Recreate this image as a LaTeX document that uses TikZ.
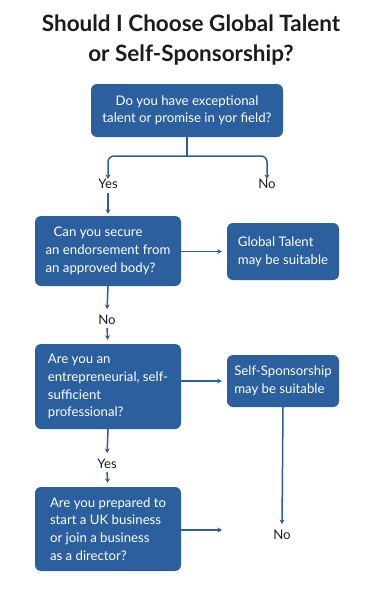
\documentclass[tikz,border=0pt]{standalone}
\usepackage{fontspec}
\setmainfont{Lato}
\usetikzlibrary{arrows.meta,calc}
\definecolor{boxblue}{RGB}{43,95,158}
\definecolor{ink}{RGB}{28,28,30}
\tikzset{
  qbox/.style={draw=none, fill=boxblue, rounded corners=6pt, text=white, inner sep=0pt, font=\fontsize{13.2}{17.8}\selectfont},
  lbl/.style={text=ink, inner sep=3pt, font=\fontsize{13.2}{15}\selectfont},
  conn/.style={draw=boxblue, line width=1.5pt},
  arr/.style={conn, -{Stealth[length=4.5pt,width=5pt]}},
}
\begin{document}
\begin{tikzpicture}[x=1pt,y=-1pt]
\useasboundingbox[fill=white] (0,0) rectangle (382,600);
\node[text=ink, align=center, font=\fontsize{22.5}{30}\selectfont\bfseries] (title) at (191,40) {Should I Choose Global Talent\\or Self-Sponsorship?};

\node[qbox, minimum width=192pt, minimum height=53pt, align=center, font=\fontsize{13.2}{17}\selectfont] (q1) at (187,110.5) {Do you have exceptional\\talent or promise in yor field?};
\node[qbox, minimum width=146pt, minimum height=70pt, align=left] (q2) at (108,251) {\hspace*{8pt}Can you secure\\an endorsement from\\an approved body?};
\node[qbox, minimum width=112pt, minimum height=57pt, align=left] (r1) at (283,251.5) {Global Talent\\may be suitable};
\node[qbox, minimum width=146pt, minimum height=85pt, align=left] (q3) at (108,386.5) {Are you an\\entrepreneurial, self-\\sufficient\\professional?};
\node[qbox, minimum width=112pt, minimum height=52pt, align=left] (r2) at (283,381) {Self-Sponsorship\\may be suitable};
\node[qbox, minimum width=146pt, minimum height=84pt, align=left] (q4) at (108,529) {Are you prepared to\\start a UK business\\or join a business\\as a director?};

\node[lbl] (yes1) at (108,184) {Yes};
\node[lbl] (no1) at (267,184) {No};
\node[lbl] (no2) at (107,320) {No};
\node[lbl] (yes2) at (107,464) {Yes};
\node[lbl] (no3) at (282,535) {No};

\coordinate (fork) at (q1.south |- 0,156);
\coordinate (end4) at (222,530);

\draw[conn] (q1.south) -- (fork);
\draw[arr, rounded corners=6pt] (fork) -| ([yshift=-3pt]yes1.north);
\draw[arr, rounded corners=6pt] (fork) -| ([yshift=-3pt]no1.north);
\draw[arr, shorten <=1pt, shorten >=2pt] (yes1.south) -- (q2.north);
\draw[arr, shorten >=5pt] (q2.east |- r1.west) -- (r1.west);
\draw[arr, shorten >=3pt] (q2.south) -- (no2.north);
\draw[arr, shorten >=4pt] (no2.south) -- (q3.north);
\draw[arr, shorten >=5pt] (q3.east |- r2.west) -- (r2.west);
\draw[arr, shorten >=3pt] (r2.south) -- (no3.north);
\draw[arr, shorten >=3pt] (q3.south) -- (yes2.north);
\draw[arr, shorten >=4pt] (yes2.south) -- (q4.north);
\draw[arr] (q4.east |- end4) -- (end4);
\end{tikzpicture}
\end{document}
